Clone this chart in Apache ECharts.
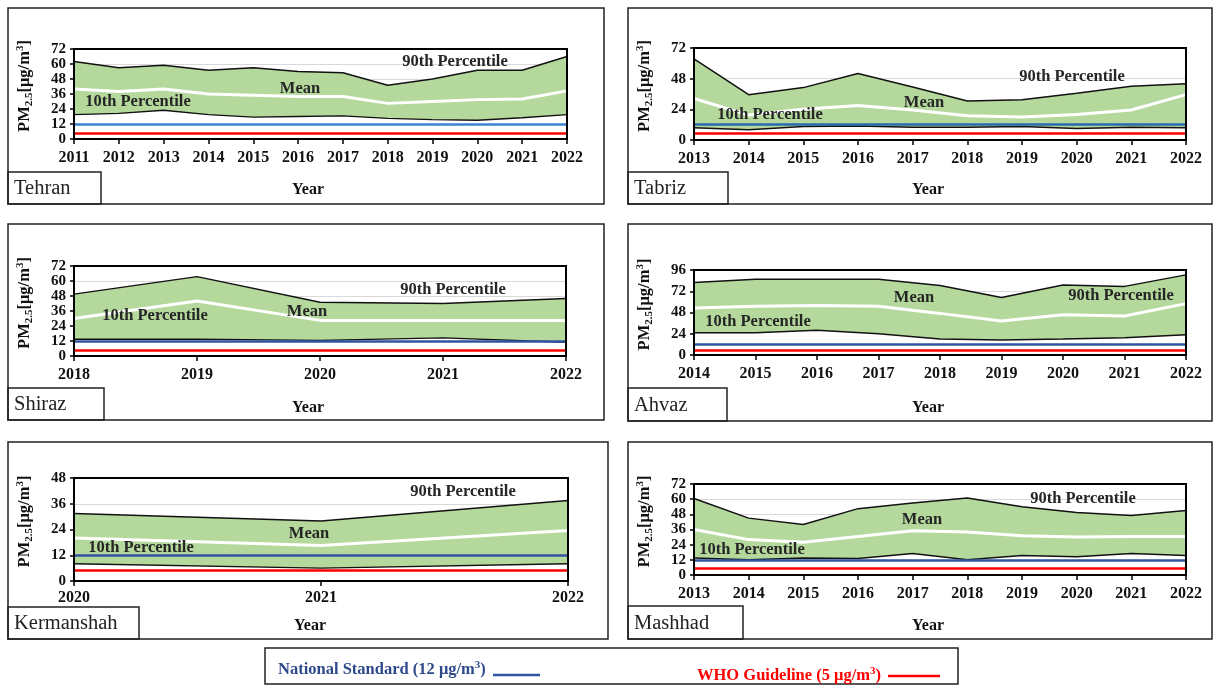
<!DOCTYPE html>
<html>
<head>
<meta charset="utf-8">
<script src="https://cdn.jsdelivr.net/npm/echarts@6/dist/echarts.min.js"></script>
<style>
html,body{margin:0;padding:0;background:#fff;}
#c{width:1218px;height:686px;}
</style>
</head>
<body>
<div id="c"></div>
<script>
// ---------------- DATA ----------------
const tehranYears = ['2011','2012','2013','2014','2015','2016','2017','2018','2019','2020','2021','2022'];
const tehranP90  = [62, 57, 59, 55, 57, 54, 53, 43, 48, 55, 55, 66];
const tehranMean = [40, 38, 40, 36, 35, 34, 34, 28.5, 30, 31.5, 32, 38.5];
const tehranP10  = [19.5, 20.5, 23, 19.5, 17.5, 18, 18.5, 16.5, 15.5, 15, 17, 19.5];

const tabrizYears = ['2013','2014','2015','2016','2017','2018','2019','2020','2021','2022'];
const tabrizP90  = [63.5, 35.5, 41, 52, 41.5, 30.5, 31.5, 36.5, 42, 44];
const tabrizMean = [32.5, 19.5, 24, 27, 23.5, 19, 18, 20, 23.5, 35.5];
const tabrizP10  = [9.5, 8, 10.5, 11, 10, 10, 10.5, 9, 10, 9.5];

const shirazYears = ['2018','2019','2020','2021','2022'];
const shirazP90  = [49.5, 63.5, 43, 42, 46];
const shirazMean = [30, 44, 28.5, 28.5, 28.5];
const shirazP10  = [13.5, 13.5, 12.5, 14.5, 11];

const ahvazYears = ['2014','2015','2016','2017','2018','2019','2020','2021','2022'];
const ahvazP90  = [82, 85.5, 85.5, 85.5, 78.5, 65, 79, 77.5, 90.5];
const ahvazMean = [53, 55, 56, 55, 47, 38.5, 45.5, 44, 58];
const ahvazP10  = [25, 25, 28, 24, 18, 17, 18, 19.5, 23];

const kermanshahYears = ['2020','2021','2022'];
const kermanshahP90  = [31.5, 28, 37.5];
const kermanshahMean = [20, 16.5, 23.5];
const kermanshahP10  = [8, 6, 8];

const mashhadYears = ['2013','2014','2015','2016','2017','2018','2019','2020','2021','2022'];
const mashhadP90  = [60.5, 45, 40, 52.5, 57, 61, 54, 49.5, 47, 51];
const mashhadMean = [36, 28, 26, 30.5, 35, 34, 31, 30, 30.5, 30.5];
const mashhadP10  = [13.5, 12, 13.5, 13, 17, 12, 15.5, 14.5, 17, 15.5];

const cityNames = ['Tehran','Tabriz','Shiraz','Ahvaz','Kermanshah','Mashhad'];
const yMaxes = [72, 72, 72, 96, 48, 72];
const ySteps = [12, 24, 12, 24, 12, 12];

const nationalStandard = 12;
const whoGuideline = 5;

const annP90 = '90th Percentile';
const annMean = 'Mean';
const annP10 = '10th Percentile';
const xName = 'Year';
const legendNational = 'National Standard (12 μg/m';
const legendWho = 'WHO Guideline (5 μg/m';

// ---------------- LAYOUT ----------------
const data = [
  [tehranYears, tehranP90, tehranMean, tehranP10],
  [tabrizYears, tabrizP90, tabrizMean, tabrizP10],
  [shirazYears, shirazP90, shirazMean, shirazP10],
  [ahvazYears, ahvazP90, ahvazMean, ahvazP10],
  [kermanshahYears, kermanshahP90, kermanshahMean, kermanshahP10],
  [mashhadYears, mashhadP90, mashhadMean, mashhadP10]
];
const layout = [
  {grid:{left:74,top:49,width:493,height:90}, box:[8,8,596,196], lbox:[8,172,93,32], year:[308,190], nsColor:'#3C82D2',
   ann:{p90:[455,62], mean:[300,89], p10:[138,102]}},
  {grid:{left:694,top:48,width:492,height:92}, box:[628,8,584,196], lbox:[628,172,100,32], year:[928,190], nsColor:'#2A68B0',
   ann:{p90:[1072,77], mean:[924,103], p10:[770,115]}},
  {grid:{left:74,top:266,width:492,height:90}, box:[8,224,596,196], lbox:[8,388,96,32], year:[308,408], nsColor:'#2F55A0',
   ann:{p90:[453,290], mean:[307,312], p10:[155,316]}},
  {grid:{left:694,top:270,width:492,height:85}, box:[628,224,584,197], lbox:[628,388,99,33], year:[928,408], nsColor:'#2F55A0',
   ann:{p90:[1121,296], mean:[914,298], p10:[758,322]}},
  {grid:{left:74,top:478,width:494,height:103}, box:[8,442,600,197], lbox:[8,607,131,32], year:[310,626], nsColor:'#2F55A0',
   ann:{p90:[463,492], mean:[309,534], p10:[141,548]}},
  {grid:{left:694,top:484,width:492,height:91}, box:[628,442,584,197], lbox:[628,606,115,33], year:[928,626], nsColor:'#2F55A0',
   ann:{p90:[1083,499], mean:[922,520], p10:[752,550]}}
];

const FONT = 'Liberation Serif';
const GREEN = '#B5D99C';
const TXT = '#262626';

const grids = [], xAxes = [], yAxes = [], series = [], graphics = [];

layout.forEach((L, i) => {
  const [years, p90, mean, p10] = data[i];
  grids.push(Object.assign({show:true, borderColor:'#000', borderWidth:2, z:10, backgroundColor:'transparent'}, L.grid));
  xAxes.push({
    type:'category', gridIndex:i, data:years, boundaryGap:false,
    axisLine:{lineStyle:{color:'#000', width:1.5}},
    axisTick:{show:true, inside:false, length:5, lineStyle:{color:'#000', width:1.5}},
    axisLabel:{color:'#111', fontFamily:FONT, fontWeight:'bold', fontSize:16, margin:i===4?9:11, hideOverlap:false},
    splitLine:{show:false}
  });
  yAxes.push({
    type:'value', gridIndex:i, min:0, max:yMaxes[i], interval:ySteps[i],
    name:'{a|PM}{b|2.5}{a|[μg/m}{c|3}{a|]}',
    nameLocation:'middle', nameRotate:90, nameGap:39,
    nameTextStyle:{
      padding:[0,0,0,16],
      rich:{
        a:{fontFamily:FONT, fontWeight:'bold', fontSize:16.5, color:'#111', lineHeight:20, verticalAlign:'middle'},
        b:{fontFamily:FONT, fontWeight:'bold', fontSize:11, color:'#111', lineHeight:20, verticalAlign:'bottom', padding:[6,0,0,0]},
        c:{fontFamily:FONT, fontWeight:'bold', fontSize:11, color:'#111', lineHeight:20, verticalAlign:'top', padding:[0,0,6,0]}
      }
    },
    axisLine:{show:true, lineStyle:{color:'#000', width:1.5}},
    axisTick:{show:true, length:4, lineStyle:{color:'#000', width:1.5}},
    axisLabel:{color:'#111', fontFamily:FONT, fontWeight:'bold', fontSize:15, margin:8,
               hideOverlap:false, showMinLabel:true, showMaxLabel:true},
    splitLine:{show:true, lineStyle:{color:'#D9D9D9', width:1}}
  });
  series.push({
    type:'line', xAxisIndex:i, yAxisIndex:i, data:p90, symbol:'none', z:2,
    lineStyle:{color:'#111', width:1.5}, areaStyle:{color:GREEN, opacity:1, origin:'start'}, silent:true
  });
  series.push({
    type:'line', xAxisIndex:i, yAxisIndex:i, data:p10, symbol:'none', z:3,
    lineStyle:{color:'#111', width:1.5}, areaStyle:{color:'#fff', opacity:1, origin:'start'}, silent:true
  });
  series.push({
    type:'line', xAxisIndex:i, yAxisIndex:i, data:mean, symbol:'none', z:4,
    lineStyle:{color:'#fff', width:3}, silent:true,
    markLine:{
      silent:true, symbol:['none','none'], label:{show:false},
      data:[
        {yAxis:nationalStandard, lineStyle:{color:L.nsColor, width:2.5, type:'solid'}},
        {yAxis:whoGuideline, lineStyle:{color:'#FF0000', width:2.5, type:'solid'}}
      ]
    }
  });

  // panel frames
  graphics.push({type:'rect', shape:{x:L.box[0], y:L.box[1], width:L.box[2], height:L.box[3]},
    style:{fill:'none', stroke:'#222', lineWidth:1.5}, z:100});
  graphics.push({type:'rect', shape:{x:L.lbox[0], y:L.lbox[1], width:L.lbox[2], height:L.lbox[3]},
    style:{fill:'none', stroke:'#222', lineWidth:1.5}, z:100});
  graphics.push({type:'text', x:L.lbox[0]+6, y:L.lbox[1]+L.lbox[3]/2+1, z:100,
    style:{text:cityNames[i], fontFamily:FONT, fontSize:20.5, fill:'#222', verticalAlign:'middle', align:'left'}});
  graphics.push({type:'text', x:L.year[0], y:L.year[1], z:100,
    style:{text:xName, fontFamily:FONT, fontWeight:'bold', fontSize:16, fill:'#111', align:'center', verticalAlign:'middle'}});
  // annotations
  [['p90',annP90],['mean',annMean],['p10',annP10]].forEach(([k,t]) => {
    graphics.push({type:'text', x:L.ann[k][0], y:L.ann[k][1], z:100,
      style:{text:t, fontFamily:FONT, fontWeight:'bold', fontSize:16.5, fill:TXT, align:'center', verticalAlign:'middle'}});
  });
});

// legend box
graphics.push({type:'rect', shape:{x:265, y:648, width:693, height:36}, style:{fill:'none', stroke:'#222', lineWidth:1.5}, z:100});
graphics.push({type:'text', x:278, y:670, z:100, style:{
  text:'{a|' + legendNational + '}{s|3}{a|)}', align:'left', verticalAlign:'middle',
  rich:{a:{fontFamily:FONT, fontWeight:'bold', fontSize:16.5, fill:'#2F4A8A', color:'#2F4A8A', lineHeight:20, verticalAlign:'middle'},
        s:{fontFamily:FONT, fontWeight:'bold', fontSize:11, fill:'#2F4A8A', color:'#2F4A8A', lineHeight:20, verticalAlign:'top', padding:[0,0,6,0]}}
}});
graphics.push({type:'line', shape:{x1:493, y1:675, x2:540, y2:675}, style:{stroke:'#2F55A0', lineWidth:2.5}, z:100});
graphics.push({type:'text', x:697, y:676, z:100, style:{
  text:'{a|' + legendWho + '}{s|3}{a|)}', align:'left', verticalAlign:'middle',
  rich:{a:{fontFamily:FONT, fontWeight:'bold', fontSize:16.5, fill:'#FF0000', color:'#FF0000', lineHeight:20, verticalAlign:'middle'},
        s:{fontFamily:FONT, fontWeight:'bold', fontSize:11, fill:'#FF0000', color:'#FF0000', lineHeight:20, verticalAlign:'top', padding:[0,0,6,0]}}
}});
graphics.push({type:'line', shape:{x1:888, y1:676, x2:940, y2:676}, style:{stroke:'#FF0000', lineWidth:2.5}, z:100});

const chart = echarts.init(document.getElementById('c'), null, {renderer:'canvas'});
chart.setOption({
  backgroundColor:'#fff',
  animation:false,
  grid:grids, xAxis:xAxes, yAxis:yAxes, series:series,
  graphic:{elements:graphics}
});
</script>
</body>
</html>
